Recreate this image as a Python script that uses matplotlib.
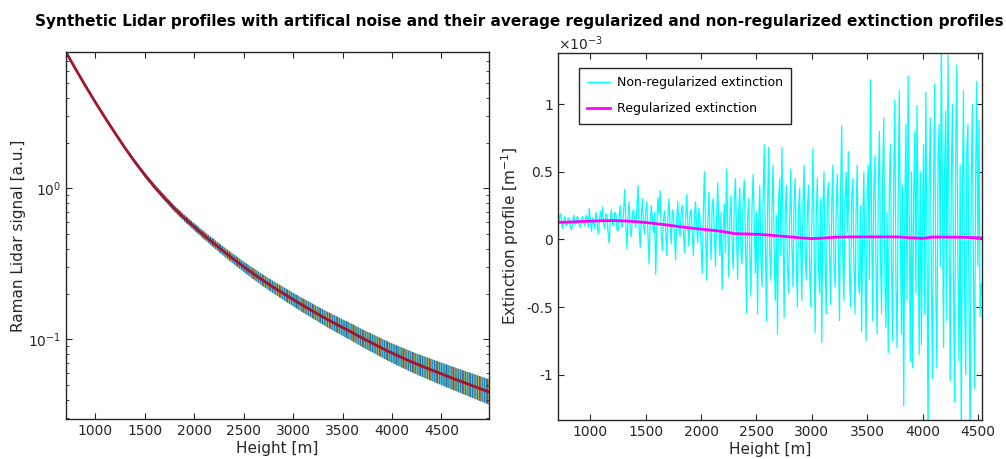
import numpy as np
import matplotlib
matplotlib.use("Agg")
import matplotlib.pyplot as plt
from matplotlib.ticker import FuncFormatter, LogLocator, NullFormatter

plt.rcParams["font.family"] = "DejaVu Sans"
plt.rcParams["axes.unicode_minus"] = False
plt.rcParams["hatch.linewidth"] = 0.55

TITLE = ("Synthetic Lidar profiles with artifical noise and their average "
         "regularized and non-regularized extinction profiles")

# ---- left panel: averaged Raman signal (a.u.) every 100 m, 700..5000 m
sig_height = np.arange(700, 5001, 100)
sig_mean = [8.054, 6.180, 4.775, 3.724, 2.931, 2.323, 1.854, 1.500, 1.230, 1.023,
            0.865, 0.736, 0.637, 0.557, 0.489, 0.432, 0.382, 0.340, 0.303, 0.272,
            0.245, 0.222, 0.202, 0.184, 0.168, 0.154, 0.141, 0.130, 0.120, 0.111,
            0.102, 0.0946, 0.0875, 0.0813, 0.0759, 0.0710, 0.0667, 0.0628, 0.0592,
            0.0558, 0.0527, 0.0498, 0.0470, 0.0445]
# half width of the noisy profile bundle, log10 units
sig_spread = [0.005, 0.006, 0.007, 0.008, 0.009, 0.010, 0.011, 0.012, 0.014,
              0.016, 0.018, 0.020, 0.022, 0.024,
              0.026, 0.028, 0.030, 0.032, 0.034,
              0.036, 0.038, 0.040, 0.042, 0.044,
              0.046, 0.048, 0.050, 0.052, 0.054,
              0.056, 0.058, 0.060, 0.062, 0.064,
              0.066, 0.068, 0.070, 0.072, 0.074,
              0.076, 0.078, 0.080, 0.082, 0.084]

profile_colors = ["#4DBEEE", "#7E2F8E", "#D95319", "#77AC30", "#EDB120", "#0072BD"]
mean_color = "#A2142F"

# ---- right panel: extinction in 1e-3 m^-1, every 10 m from 710 m
ext_height = np.arange(710, 4531, 10)
ext_raw = [
    0.10, 0.16, 0.19, 0.12, 0.08, 0.14, 0.17, 0.10, 0.11, 0.16, 0.15, 0.09, 0.07, 0.13, 0.18, 0.11, 0.12, 0.17, 0.16, 0.10,
    0.09, 0.14, 0.17, 0.12, 0.10, 0.18, 0.15, 0.09, 0.23, 0.13, 0.06, 0.16, 0.12, 0.08, 0.20, 0.14, 0.04, 0.12, 0.21, 0.15,
    0.24, 0.11, 0.08, 0.19, 0.18, 0.05, -0.03, 0.15, 0.22, 0.12, 0.10, 0.20, 0.19, 0.07, 0.06, 0.17, 0.25, 0.11, 0.09, 0.21,
    0.37, 0.12, -0.07, 0.18, 0.28, 0.06, 0.02, 0.19, 0.22, 0.14, 0.09, 0.25, 0.40, 0.08, -0.06, 0.17, 0.30, 0.10, 0.04, 0.22,
    0.28, 0.03, -0.18, 0.12, 0.25, 0.15, 0.05, 0.20, -0.26, 0.10, 0.31, 0.18, 0.36, 0.04, -0.08, 0.14, 0.21, 0.08, -0.12, 0.16,
    0.30, 0.10, -0.03, 0.22, 0.18, 0.02, -0.15, 0.16, 0.28, 0.09, 0.02, 0.19, 0.25, 0.06, -0.10, 0.15, 0.33, 0.12, -0.05, 0.20,
    0.22, 0.04, -0.12, 0.18, 0.28, 0.10, -0.02, 0.23, 0.15, -0.05, -0.25, 0.20, 0.50, 0.08, -0.30, 0.12, 0.35, 0.05, -0.15, 0.26,
    0.30, 0.02, -0.20, 0.15, 0.42, 0.10, -0.12, 0.20, -0.37, 0.05, 0.26, -0.10, 0.52, 0.12, -0.28, 0.18, 0.32, -0.05, -0.22, 0.28,
    0.45, 0.05, -0.30, 0.22, 0.38, -0.08, -0.18, 0.30, 0.44, 0.02, -0.54, 0.15, 0.30, -0.12, -0.42, 0.25, 0.48, 0.10, -0.25, 0.20,
    -0.55, 0.12, 0.40, -0.15, -0.35, 0.28, 0.70, 0.05, -0.60, 0.20, 0.68, -0.10, -0.30, 0.25, 0.55, -0.08, -0.45, 0.18, -0.70, 0.30,
    0.45, -0.12, 0.68, 0.10, -0.58, 0.22, 0.40, -0.20, -0.40, 0.15, 0.52, -0.05, -0.35, 0.30, 0.45, -0.15, -0.50, 0.20, 0.38, -0.10,
    -0.45, 0.25, 0.55, -0.10, -0.30, 0.20, 0.40, -0.22, -0.50, 0.12, 0.67, 0.05, -0.69, 0.18, 0.45, -0.20, -0.40, 0.30, -0.76, 0.22,
    0.50, -0.15, -0.55, 0.30, 0.42, -0.10, -0.48, 0.25, 0.55, -0.20, -0.35, 0.22, 0.48, -0.05, -0.60, 0.35, 0.84, -0.12, -0.45, 0.30,
    0.50, 0.05, 0.65, -0.25, -0.50, 0.30, 0.45, -0.15, -0.55, 0.20, 0.55, -0.30, -0.40, 0.25, -0.68, 0.10, 0.50, -0.20, -0.75, 0.35,
    0.55, -0.30, 1.18, 0.15, -0.60, 0.40, 0.62, -0.25, -0.70, 0.35, 0.80, -0.10, -0.55, 0.45, 0.90, -0.30, -0.65, 0.20, -0.84, 0.40,
    0.70, -0.20, -0.75, 0.45, 1.03, -0.35, -0.80, 0.30, 1.10, 0.05, -0.70, 0.40, -1.23, 0.25, 0.85, -0.45, 1.21, 0.10, -0.90, 0.50,
    -0.95, 0.30, 0.80, -0.40, 0.99, 0.15, -0.85, 0.50, -0.78, 0.20, 0.70, -0.55, 1.09, 0.05, -1.50, 0.40, 0.90, -0.30, -1.03, 0.45,
    1.15, -0.40, -0.95, 0.60, 0.85, -0.20, 1.50, 0.30, -0.80, 0.55, 0.95, -0.60, 1.36, 0.20, -1.05, 0.45, 1.00, -0.35, -1.20, 0.70,
    1.29, -0.25, -0.90, 0.55, -1.50, 0.30, 1.10, -0.40, -1.00, 0.65, 0.85, -0.50, -1.50, 0.40, 1.00, -0.30, -1.10, 0.50, 1.17, -0.20,
    0.88, -0.57, -0.33,
]
reg_height = list(range(700, 4501, 100)) + [4535]
reg_ext = [0.126, 0.128, 0.132, 0.135, 0.138, 0.139, 0.137, 0.132, 0.125, 0.116,
           0.106, 0.095, 0.085, 0.076, 0.068, 0.058, 0.043, 0.041, 0.038, 0.033,
           0.026, 0.019, 0.012, 0.006, 0.010, 0.016, 0.018, 0.019, 0.019, 0.019,
           0.019, 0.018, 0.012, 0.008, 0.018, 0.017, 0.017, 0.015, 0.012, 0.012]

fg = "#262626"
fig = plt.figure(figsize=(10.06, 4.59), dpi=100)
ax1 = fig.add_axes([0.0653, 0.0865, 0.4211, 0.8009])
ax2 = fig.add_axes([0.5544, 0.085, 0.4215, 0.800])

# bundle of noisy profiles: cyan base, other colours as thin vertical strokes
mean = np.array(sig_mean)
w = 10 ** np.array(sig_spread)
lo, hi = mean / w, mean * w
ax1.fill_between(sig_height, lo, hi, facecolor=profile_colors[0], lw=0)
hatches = ["||", "|||", "||||", "|||||", "|||||||"]
for c, hp in zip(profile_colors[1:], hatches):
    ax1.fill_between(sig_height, lo, hi, facecolor="none", edgecolor=c, hatch=hp, lw=0)
ax1.plot(sig_height, mean, color=mean_color, lw=2)
ax1.set_yscale("log")
ax1.set_xlim(700, 4985)
ax1.set_ylim(0.0296, 8.05)
ax1.set_xticks(range(1000, 4501, 500))
ax1.yaxis.set_minor_locator(LogLocator(base=10, subs=np.arange(2, 10)))
ax1.yaxis.set_minor_formatter(NullFormatter())
ax1.set_xlabel("Height [m]", fontsize=11, color=fg, labelpad=2)
ax1.set_ylabel("Raman Lidar signal [a.u.]", fontsize=11, color=fg, labelpad=1)

# extinction
ax2.plot(ext_height, ext_raw, color="#00FFFF", lw=0.9, label="Non-regularized extinction")
ax2.plot(reg_height, reg_ext, color="#FF00FF", lw=2, label="Regularized extinction")
ax2.set_xlim(705, 4535)
ax2.set_ylim(-1.335, 1.38)
ax2.set_xticks(range(1000, 4501, 500))
ax2.set_yticks([-1, -0.5, 0, 0.5, 1])
ax2.yaxis.set_major_formatter(FuncFormatter(lambda v, p: f"{v:g}"))
ax2.text(0, 1.0, r"$\times10^{-3}$", transform=ax2.transAxes, ha="left", va="bottom",
         fontsize=10, color=fg)
ax2.set_xlabel("Height [m]", fontsize=11, color=fg, labelpad=2)
ax2.set_ylabel("Extinction profile [m$^{-1}$]", fontsize=11, color=fg)
leg = ax2.legend(loc="upper left", bbox_to_anchor=(0.05, 0.958), borderaxespad=0,
                 fontsize=9, frameon=True, fancybox=False, framealpha=1,
                 edgecolor="#262626", labelspacing=1.05, handlelength=1.8,
                 handletextpad=0.6, borderpad=0.65)
leg.get_frame().set_linewidth(1.0)

for ax in (ax1, ax2):
    ax.tick_params(which="both", direction="in", top=True, right=True, colors=fg,
                   labelsize=10)
    ax.tick_params(which="major", length=4)
    ax.tick_params(which="minor", length=2.5)
    for s in ax.spines.values():
        s.set_color(fg)
        s.set_linewidth(1.0)

fig.suptitle(TITLE, x=0.516, y=0.953, va="center", fontsize=11.0, fontweight="bold")
fig.savefig("out.png", dpi=100, facecolor="white")
